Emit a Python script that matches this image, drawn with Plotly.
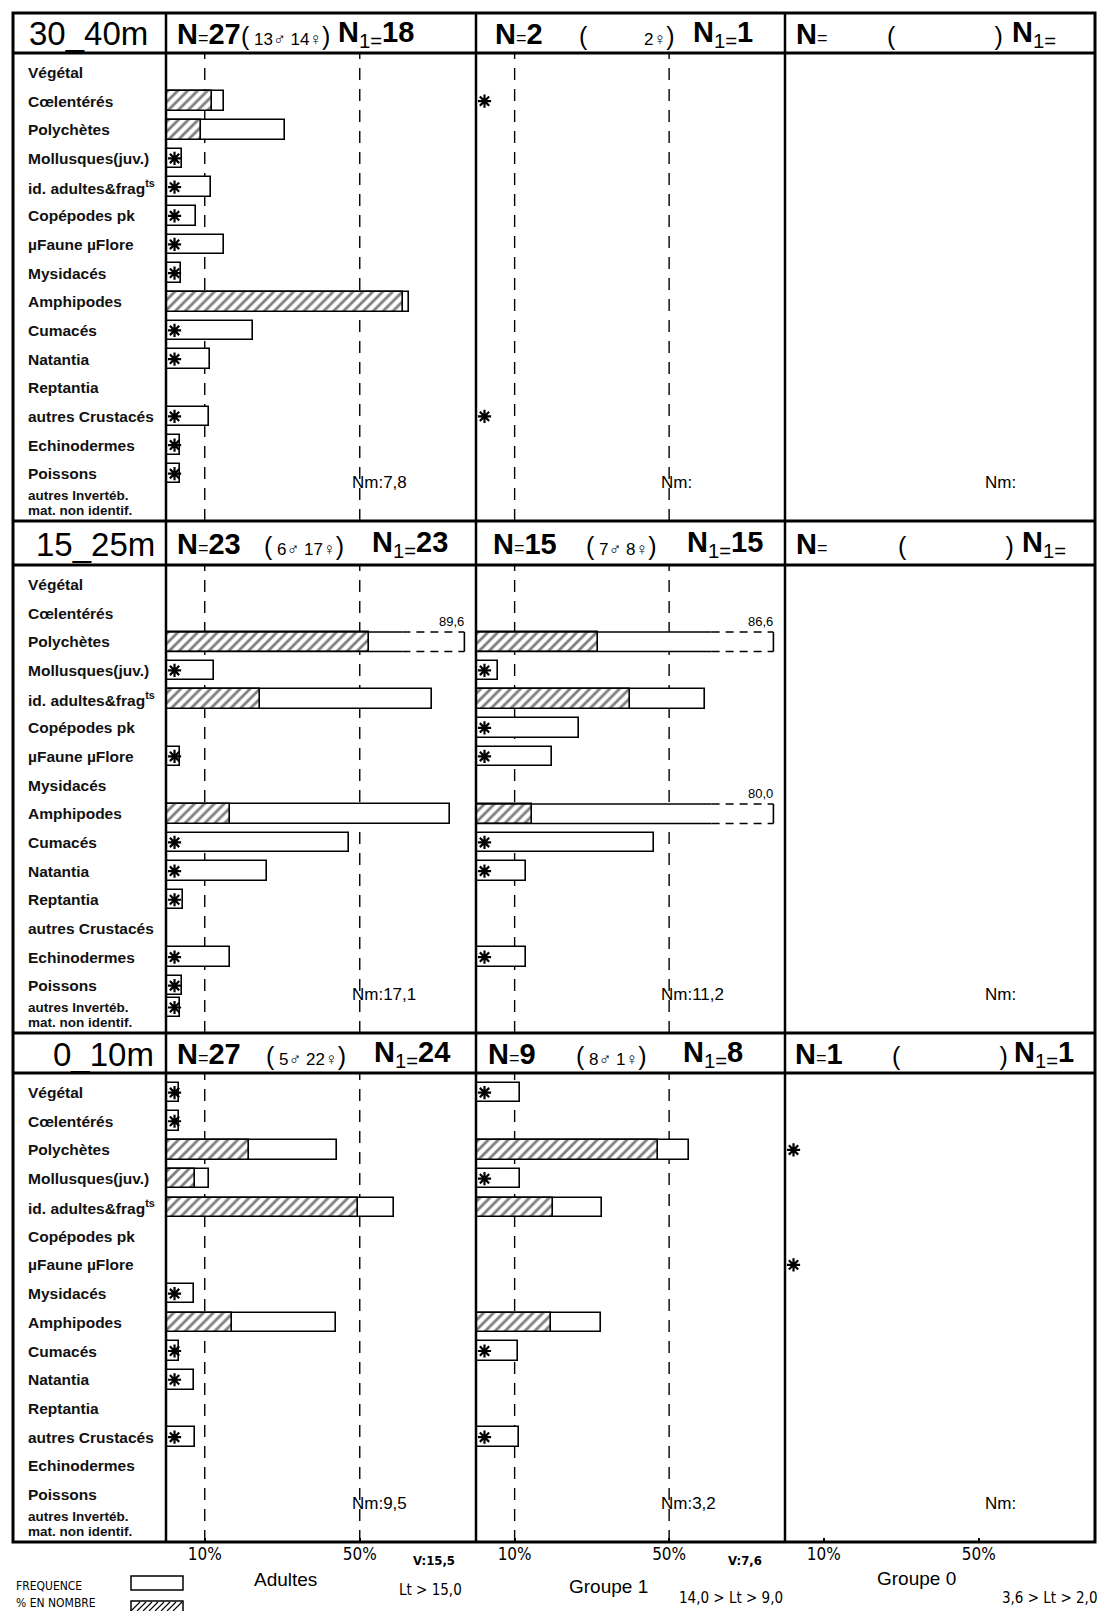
import plotly.graph_objects as go

# ---------------- DATA ----------------
CATEGORIES = ["Végétal", "Cœlentérés", "Polychètes", "Mollusques(juv.)",
              "id. adultes&frag<sup>ts</sup>", "Copépodes pk", "µFaune µFlore",
              "Mysidacés", "Amphipodes", "Cumacés", "Natantia", "Reptantia",
              "autres Crustacés", "Echinodermes", "Poissons",
              "autres Invertéb.", "mat. non identif."]
DEPTHS = ["30_40m", "15_25m", "0_10m"]
GROUPS = ["Adultes", "Groupe 1", "Groupe 0"]
V_TEXT = ["V:15,5", "V:7,6", ""]
LT_TEXT = ["Lt > 15,0", "14,0 > Lt > 9,0", "3,6 > Lt > 2,0"]
T = "*"   # trace (asterisk)

# 30_40m
FREQ_30_ADU = [None, 14.9, 30.7, 4.1, 11.6, 7.7, 14.9, 3.8, 62.7, 22.5, 11.4, None, 11.1, 3.5, 3.5, None, None]
PCT_30_ADU = [None, 11.8, 9.0, T, T, T, T, T, 61.1, T, T, None, T, T, T, None, None]
FREQ_30_G1 = [None] * 17
PCT_30_G1 = [None, T, None, None, None, None, None, None, None, None, None, None, T, None, None, None, None]
FREQ_30_G0 = [None] * 17
PCT_30_G0 = [None] * 17
# 15_25m
FREQ_15_ADU = [None, None, 89.6, 12.4, 68.7, None, 3.7, None, 73.3, 47.1, 26.0, 4.3, None, 16.6, 4.0, 3.7, None]
PCT_15_ADU = [None, None, 52.3, T, 24.2, None, T, None, 16.6, T, T, T, None, T, T, T, None]
FREQ_15_G1 = [None, None, 86.6, 5.8, 59.3, 26.6, 19.7, None, 80.0, 46.1, 12.9, None, None, 12.9, None, None, None]
PCT_15_G1 = [None, None, 31.6, T, 39.8, T, T, None, 14.6, T, T, None, None, T, None, None, None]
FREQ_15_G0 = [None] * 17
PCT_15_G0 = [None] * 17
# 0_10m
FREQ_0_ADU = [3.4, 3.4, 44.1, 11.0, 58.9, None, None, 7.1, 43.8, 3.4, 7.1, None, 7.6, None, None, None, None]
PCT_0_ADU = [T, T, 21.3, 7.6, 49.6, None, None, T, 17.1, T, T, None, T, None, None, None, None]
FREQ_0_G1 = [11.4, None, 55.1, 11.4, 32.7, None, None, None, 32.4, 10.9, None, None, 11.1, None, None, None, None]
PCT_0_G1 = [T, None, 47.0, T, 20.0, None, None, None, 19.4, T, None, None, T, None, None, None, None]
FREQ_0_G0 = [None] * 17
PCT_0_G0 = [None, None, T, None, None, None, T, None, None, None, None, None, None, None, None, None, None]

FREQ = [[FREQ_30_ADU, FREQ_30_G1, FREQ_30_G0],
        [FREQ_15_ADU, FREQ_15_G1, FREQ_15_G0],
        [FREQ_0_ADU, FREQ_0_G1, FREQ_0_G0]]
PCT = [[PCT_30_ADU, PCT_30_G1, PCT_30_G0],
       [PCT_15_ADU, PCT_15_G1, PCT_15_G0],
       [PCT_0_ADU, PCT_0_G1, PCT_0_G0]]

# header counts per block (rows) and group (cols)
N_TOT = [["27", "2", ""], ["23", "15", ""], ["27", "9", "1"]]
N_MALE = [["13", "", ""], ["6", "7", ""], ["5", "8", ""]]
N_FEM = [["14", "2", ""], ["17", "8", ""], ["22", "1", ""]]
N_ONE = [["18", "1", ""], ["23", "15", ""], ["24", "8", "1"]]
NM = [["7,8", "", ""], ["17,1", "11,2", ""], ["9,5", "3,2", ""]]

# ---------------- LAYOUT ----------------
W, H = 1097, 1611
def px(x): return x / W
def py(y): return 1 - y / H

X_EDGES = [166, 476, 785, 1095]
LEFT = 13
Y_BLOCKS = [(53, 521), (565, 1033), (1073, 1542)]
HEADS = [(13, 53), (521, 565), (1033, 1073)]
XMAX = 80.0
YR = [15.65, -0.68]
POS = list(range(15)) + [14.76, 15.27]
BW = 0.68
CAP = 77.0
BRK = 61.0
STAR_X = 2.2
NB = "\u00a0"
FONT = "Liberation Sans, Arial, sans-serif"
NARROW = "Liberation Sans Narrow, Arial Narrow, DejaVu Sans Condensed, Liberation Sans, sans-serif"

fig = go.Figure()
layout = dict(width=W, height=H, margin=dict(l=0, r=0, t=0, b=0), autosize=False,
              paper_bgcolor="white", plot_bgcolor="white", showlegend=False,
              barmode="overlay", bargap=0)
shapes, annots = [], []

def fmt(v):
    return f"{v:.1f}".replace(".", ",")

for r in range(3):
    for c in range(3):
        k = r * 3 + c + 1
        sfx = "" if k == 1 else str(k)
        xa, ya = "x" + sfx, "y" + sfx
        bottom = (r == 2)
        xaxis = dict(
            domain=[px(X_EDGES[c]), px(X_EDGES[c + 1])], range=[0, XMAX], anchor=ya,
            showgrid=False, zeroline=False, showline=False, fixedrange=True,
            showticklabels=bottom)
        if bottom:
            xaxis.update(tickvals=[10, 50], ticktext=["10%", "50%"], ticks="inside",
                         ticklen=4, tickwidth=2, tickcolor="black",
                         tickfont=dict(family=NARROW, size=17, color="black"))
        else:
            xaxis.update(ticks="")
        layout["xaxis" + sfx] = xaxis
        layout["yaxis" + sfx] = dict(
            domain=[py(Y_BLOCKS[r][1]), py(Y_BLOCKS[r][0])], range=YR, anchor=xa,
            showgrid=False, zeroline=False, showline=False, showticklabels=False,
            ticks="", fixedrange=True)

        # dashed reference lines (Adultes, Groupe 1)
        if c < 2:
            for ref in (10, 50):
                shapes.append(dict(type="line", xref=xa, yref=ya + " domain", x0=ref, x1=ref,
                                   y0=0, y1=1, layer="below",
                                   line=dict(color="black", width=1.4, dash="12px,9px")))

        freq, pct = FREQ[r][c], PCT[r][c]
        normal = [v if (v is not None and v <= XMAX - 1) else None for v in freq]
        trunc = [CAP if (v is not None and v > XMAX - 1) else None for v in freq]
        if any(v is not None for v in normal):
            fig.add_trace(go.Bar(x=normal, y=POS, orientation="h", width=BW, xaxis=xa, yaxis=ya,
                                 marker=dict(color="white", line=dict(color="black", width=1.6)),
                                 hoverinfo="skip"))
        if any(v is not None for v in trunc):
            fig.add_trace(go.Bar(x=trunc, y=POS, orientation="h", width=BW, xaxis=xa, yaxis=ya,
                                 marker=dict(color="white", line=dict(width=0)),
                                 hoverinfo="skip"))
            for i, v in enumerate(freq):
                if v is not None and v > XMAX - 1:
                    p = POS[i]
                    h = BW / 2
                    fig.add_trace(go.Scatter(x=[0, BRK, None, 0, BRK, None, CAP, CAP],
                                             y=[p - h, p - h, None, p + h, p + h, None, p - h, p + h],
                                             mode="lines", xaxis=xa, yaxis=ya, hoverinfo="skip",
                                             line=dict(color="black", width=1.6)))
                    fig.add_trace(go.Scatter(x=[BRK, CAP, None, BRK, CAP],
                                             y=[p - h, p - h, None, p + h, p + h],
                                             mode="lines", xaxis=xa, yaxis=ya, hoverinfo="skip",
                                             line=dict(color="black", width=1.6, dash="8px,6px")))
                    annots.append(dict(xref=xa, yref=ya, x=CAP + 0.5, y=p - h - 0.05,
                                       text=fmt(v), showarrow=False, xanchor="right",
                                       yanchor="bottom",
                                       font=dict(family=FONT, size=13, color="black")))
        pvals = [v if isinstance(v, (int, float)) else None for v in pct]
        if any(v is not None for v in pvals):
            fig.add_trace(go.Bar(x=pvals, y=POS, orientation="h", width=BW, xaxis=xa, yaxis=ya,
                                 marker=dict(color="white",
                                             line=dict(color="black", width=1.6),
                                             pattern=dict(shape="/", fgcolor="black",
                                                          bgcolor="white", size=7,
                                                          solidity=0.4)),
                                 hoverinfo="skip"))
        sy = [POS[i] for i, v in enumerate(pct) if v == T]
        if sy:
            fig.add_trace(go.Scatter(x=[STAR_X] * len(sy), y=sy, mode="markers",
                                     xaxis=xa, yaxis=ya, hoverinfo="skip", cliponaxis=False,
                                     marker=dict(symbol="asterisk-open", size=11, color="black",
                                                 line=dict(color="black", width=2.2))))
        # Nm label
        annots.append(dict(xref=xa, yref=ya, x=47.5 if c < 2 else 51, y=14.3,
                           text="Nm:" + NM[r][c],
                           showarrow=False, xanchor="left", yanchor="middle",
                           font=dict(family=FONT, size=17, color="black")))

    # category labels
    ya_row = "y" if r == 0 else f"y{r * 3 + 1}"
    for i, cat in enumerate(CATEGORIES):
        annots.append(dict(xref="paper", yref=ya_row, x=px(26), y=POS[i], text=f"<b>{cat}</b>",
                           showarrow=False, xanchor="left", yanchor="middle",
                           font=dict(family=FONT, size=13.5 if i >= 15 else 15.5, color="#111")))

# header text
DEPTH_X = [150, 157, 156]
HX = [[(175, 285, 416), (493, 627, 755), (794, 945, 1058)],
      [(175, 304, 450), (491, 621, 765), (794, 956, 1068)],
      [(175, 306, 452), (486, 611, 745), (793, 950, 1076)]]
for r in range(3):
    yc = py((HEADS[r][0] + HEADS[r][1]) / 2 + 1)
    annots.append(dict(xref="paper", yref="paper", x=px(DEPTH_X[r]), y=yc, text=DEPTHS[r],
                       showarrow=False, xanchor="right", yanchor="middle",
                       font=dict(family=FONT, size=33, color="black")))
    for c in range(3):
        xA, xB, xC = HX[r][c]
        tA = f"<b>N</b><span style='font-size:18px'>=</span><b>{N_TOT[r][c]}</b>"
        m, f = N_MALE[r][c], N_FEM[r][c]
        if not m and not f:
            inner = NB * 21
        else:
            inner = NB + (f"{m}♂" if m else NB * 10) + NB + (f"{f}♀" if f else NB * 6)
        tB = f"<span style='font-size:25px'>(</span>{inner}<span style='font-size:25px'>)</span>"
        tC = f"<b>N</b><sub>1=</sub><b>{N_ONE[r][c]}</b>"
        annots.append(dict(xref="paper", yref="paper", x=px(xA), y=yc, text=tA,
                           showarrow=False, xanchor="left", yanchor="middle",
                           font=dict(family=FONT, size=29, color="black")))
        annots.append(dict(xref="paper", yref="paper", x=px(xB), y=yc - 0.001, text=tB,
                           showarrow=False, xanchor="center", yanchor="middle",
                           font=dict(family=FONT, size=17, color="black")))
        annots.append(dict(xref="paper", yref="paper", x=px(xC), y=yc, text=tC,
                           showarrow=False, xanchor="right", yanchor="middle",
                           font=dict(family=FONT, size=29, color="black")))

# table lines
TOP, BOT, RIGHT = 13, 1542, 1095
shapes.append(dict(type="rect", xref="paper", yref="paper", x0=px(LEFT), x1=px(RIGHT),
                   y0=py(BOT), y1=py(TOP), line=dict(color="black", width=3), layer="above"))
for yl in (53, 521, 565, 1033, 1073):
    shapes.append(dict(type="line", xref="paper", yref="paper", x0=px(LEFT), x1=px(RIGHT),
                       y0=py(yl), y1=py(yl), line=dict(color="black", width=3), layer="above"))
for xl in X_EDGES[:3]:
    shapes.append(dict(type="line", xref="paper", yref="paper", x0=px(xl), x1=px(xl),
                       y0=py(BOT), y1=py(TOP), line=dict(color="black", width=2.5), layer="above"))

# bottom labels
GX = [(285, 1579), (608, 1586), (916, 1578)]
VX = [(434, 1560), (745, 1560), (0, 0)]
LX = [(430, 1590), (731, 1598), (1049, 1598)]
for c in range(3):
    annots.append(dict(xref="paper", yref="paper", x=px(GX[c][0]), y=py(GX[c][1]),
                       text=GROUPS[c], showarrow=False, xanchor="center", yanchor="middle",
                       font=dict(family=FONT, size=19, color="black")))
    if V_TEXT[c]:
        annots.append(dict(xref="paper", yref="paper", x=px(VX[c][0]), y=py(VX[c][1]),
                           text=f"<b>{V_TEXT[c]}</b>", showarrow=False, xanchor="center",
                           yanchor="middle", font=dict(family=NARROW, size=13, color="black")))
    annots.append(dict(xref="paper", yref="paper", x=px(LX[c][0]), y=py(LX[c][1]),
                       text=LT_TEXT[c], showarrow=False, xanchor="center", yanchor="middle",
                       font=dict(family=NARROW, size=15, color="black")))

# legend
annots.append(dict(xref="paper", yref="paper", x=px(14), y=py(1586), text="FREQUENCE",
                   showarrow=False, xanchor="left", yanchor="middle",
                   font=dict(family=NARROW, size=12, color="black")))
annots.append(dict(xref="paper", yref="paper", x=px(14), y=py(1603), text="% EN NOMBRE",
                   showarrow=False, xanchor="left", yanchor="middle",
                   font=dict(family=NARROW, size=12, color="black")))
shapes.append(dict(type="rect", xref="paper", yref="paper", x0=px(131), x1=px(183),
                   y0=py(1590), y1=py(1576), line=dict(color="black", width=1.5)))
shapes.append(dict(type="rect", xref="paper", yref="paper", x0=px(131), x1=px(183),
                   y0=py(1615), y1=py(1601), line=dict(color="black", width=1.5)))
hatch = ""
for x0 in range(131, 176, 6):
    hatch += f"M {px(x0)} {py(1611)} L {px(x0 + 9)} {py(1602)} "
shapes.append(dict(type="path", xref="paper", yref="paper", path=hatch,
                   line=dict(color="black", width=1.2)))

layout["shapes"] = shapes
layout["annotations"] = annots
fig.update_layout(**layout)
fig.write_html("out.html", config={"displayModeBar": False},
               post_script="document.body.style.margin='0';document.body.style.overflow='hidden';")
